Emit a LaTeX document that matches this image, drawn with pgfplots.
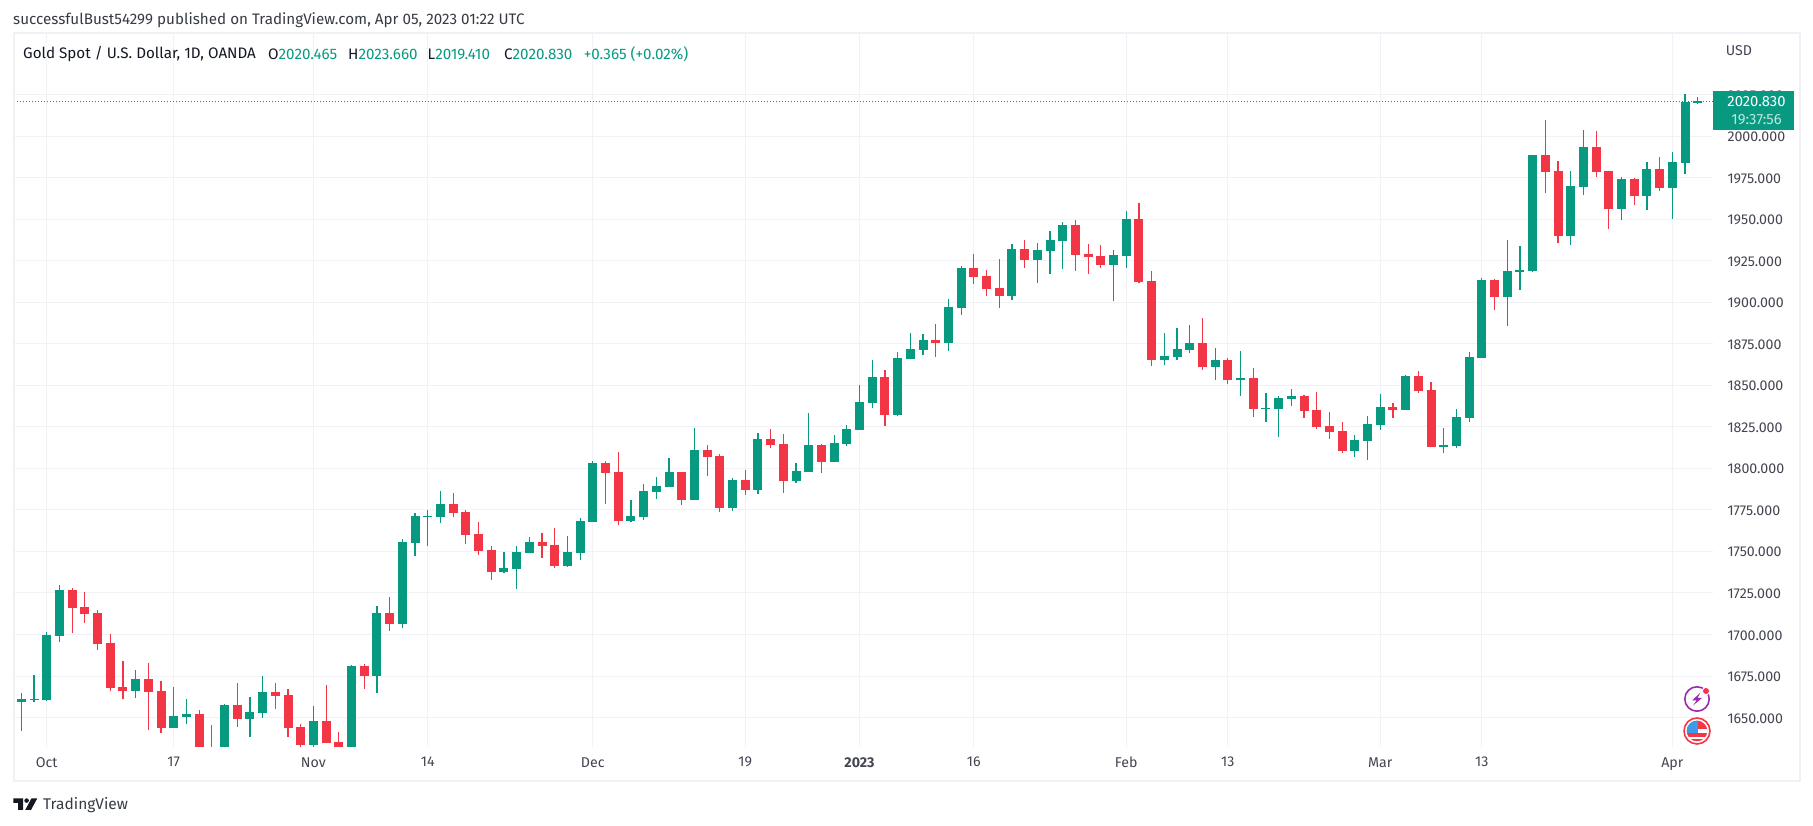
\documentclass[border=0pt]{standalone}
\usepackage{fontspec}
\setmainfont{Fira Sans}
\usepackage{pgfplots}
\usepackage{pgfplotstable}
\pgfplotsset{compat=1.18}

\definecolor{tvgreen}{HTML}{089981}
\definecolor{tvred}{HTML}{F23645}
\definecolor{tvtext}{HTML}{434651}
\definecolor{tvdark}{HTML}{131722}
\definecolor{tvgrid}{HTML}{F1F2F5}
\definecolor{tvframe}{HTML}{F0F1F6}
\definecolor{tvpurple}{HTML}{9C27B0}
\definecolor{tvblue}{HTML}{3D9AE8}

\newcommand{\hdfont}{\fontsize{15.2}{18}\selectfont}
\newcommand{\tkfont}{\fontsize{14.2}{17}\selectfont}
\newcommand{\tagfont}{\fontsize{14.8}{17}\selectfont}

% i open high low close
\pgfplotstableread{
i o h l c
0 1659.4 1664.8 1642.1 1661.2
1 1660.6 1675.6 1659.4 1661.2
2 1660.4 1701.5 1660.2 1699.7
3 1699.1 1729.8 1695.5 1726.8
9 1666.0 1678.6 1661.8 1673.2
12 1643.7 1668.4 1643.7 1651.0
13 1650.4 1661.2 1646.1 1652.2
16 1625.0 1658.2 1617.0 1657.6
18 1649.2 1662.4 1638.3 1653.4
19 1652.8 1675.0 1649.8 1665.4
23 1633.5 1657.0 1632.0 1647.9
26 1625.0 1681.6 1620.0 1681.0
28 1675.0 1717.2 1664.8 1712.9
30 1706.3 1757.5 1703.9 1755.7
31 1755.1 1773.1 1747.3 1771.3
32 1770.7 1774.9 1753.3 1771.3
33 1770.7 1786.4 1767.1 1778.5
38 1737.6 1749.7 1737.0 1740.0
39 1739.4 1753.3 1727.4 1749.7
40 1749.1 1758.7 1749.1 1755.7
43 1741.2 1759.3 1740.6 1749.7
44 1749.1 1770.1 1744.8 1768.3
45 1767.7 1804.4 1767.7 1803.2
48 1768.3 1780.9 1767.7 1771.3
49 1770.7 1790.6 1768.9 1786.4
50 1785.8 1794.8 1781.5 1789.4
51 1788.8 1806.2 1788.8 1797.8
53 1780.9 1824.3 1780.9 1811.0
56 1776.1 1794.2 1774.3 1793.0
58 1787.0 1821.3 1784.6 1817.7
61 1792.4 1803.2 1791.2 1798.4
62 1797.8 1833.3 1797.8 1814.0
64 1803.8 1820.1 1803.8 1815.2
65 1814.6 1826.1 1813.4 1823.7
66 1823.1 1850.2 1823.1 1839.9
67 1839.3 1865.2 1836.3 1855.0
69 1832.1 1870.0 1831.5 1866.4
70 1865.8 1881.4 1865.8 1871.8
71 1871.2 1880.8 1868.2 1877.2
73 1875.4 1901.9 1870.6 1897.1
74 1896.5 1921.8 1892.3 1920.6
78 1903.7 1935.0 1901.3 1932.0
80 1925.4 1935.6 1911.5 1931.4
81 1930.8 1942.8 1917.0 1937.4
82 1936.8 1948.2 1920.0 1946.4
86 1922.4 1931.4 1900.7 1928.4
87 1927.8 1954.9 1920.6 1950.0
90 1865.2 1881.4 1862.2 1867.6
91 1867.0 1884.5 1865.2 1871.8
92 1871.2 1886.3 1869.4 1875.4
94 1861.0 1872.4 1853.1 1865.2
96 1853.1 1870.6 1843.5 1854.4
98 1835.7 1845.3 1827.9 1836.3
99 1835.7 1843.5 1818.9 1842.3
100 1841.7 1847.7 1837.5 1843.5
105 1810.4 1820.1 1806.8 1817.0
106 1816.4 1831.5 1805.0 1826.7
107 1826.1 1844.7 1823.1 1836.9
109 1835.1 1856.2 1835.1 1855.6
112 1812.8 1824.3 1809.2 1814.0
113 1813.4 1835.7 1812.2 1830.9
114 1830.3 1870.0 1827.9 1867.0
115 1866.4 1914.5 1866.4 1913.3
117 1903.1 1937.4 1885.7 1918.7
118 1918.1 1933.8 1907.3 1919.4
119 1918.7 1988.6 1918.1 1988.6
122 1939.8 1978.9 1934.4 1969.9
123 1969.3 2003.6 1964.5 1993.4
126 1956.0 1975.3 1949.4 1974.1
128 1963.9 1984.4 1955.5 1980.1
130 1968.7 1990.4 1950.0 1984.4
131 1983.8 2025.3 1977.1 2020.5
132 2020.1 2023.66 2019.41 2020.95
}\upcandles

\pgfplotstableread{
i o h l c
4 1726.8 1728.0 1700.9 1715.9
5 1716.5 1725.6 1706.9 1712.3
6 1712.9 1714.7 1690.7 1694.3
7 1694.9 1700.3 1666.0 1667.8
8 1668.4 1684.1 1661.2 1666.0
10 1673.2 1682.9 1642.5 1665.4
11 1666.0 1672.0 1640.7 1643.7
14 1652.2 1654.6 1625.0 1628.0
15 1631.0 1645.5 1617.0 1625.0
17 1657.6 1670.8 1644.3 1649.2
20 1665.4 1670.8 1655.2 1663.0
21 1663.6 1667.2 1638.3 1643.7
22 1644.3 1646.1 1632.0 1633.5
24 1647.9 1669.6 1634.7 1634.7
25 1635.3 1641.3 1625.0 1628.0
27 1681.0 1682.2 1667.2 1675.0
29 1712.9 1722.6 1702.1 1706.3
34 1778.5 1785.2 1770.7 1773.1
35 1773.7 1774.9 1754.5 1759.9
36 1760.5 1767.7 1747.9 1750.3
37 1750.9 1753.3 1732.8 1737.6
41 1755.7 1761.1 1746.0 1753.3
42 1753.9 1764.1 1740.0 1741.2
46 1803.2 1804.4 1778.5 1797.2
47 1797.8 1809.8 1765.9 1768.3
52 1797.8 1797.8 1777.9 1780.9
54 1811.0 1814.0 1795.4 1806.8
55 1807.4 1808.6 1773.7 1776.1
57 1793.0 1799.0 1784.0 1787.0
59 1817.7 1823.7 1812.2 1814.0
60 1814.7 1820.7 1785.2 1792.4
63 1814.0 1814.6 1797.2 1803.8
68 1855.0 1859.2 1825.5 1832.1
72 1877.2 1886.9 1867.0 1875.4
75 1920.6 1929.0 1910.9 1915.1
76 1915.7 1919.4 1903.7 1907.9
77 1908.5 1926.0 1896.5 1903.7
79 1932.0 1937.4 1920.6 1925.4
83 1946.4 1949.4 1918.8 1928.4
84 1929.0 1935.0 1917.0 1927.2
85 1927.8 1934.4 1920.6 1922.4
88 1950.0 1959.7 1911.5 1912.1
89 1912.7 1918.8 1861.6 1865.2
93 1875.4 1890.5 1859.2 1861.0
95 1865.2 1866.4 1850.7 1853.1
97 1854.4 1860.4 1830.9 1835.7
101 1843.5 1844.1 1830.3 1834.5
102 1835.1 1845.9 1823.7 1824.9
103 1825.5 1833.9 1817.6 1821.9
104 1822.5 1827.9 1809.2 1810.4
108 1836.9 1839.3 1830.3 1835.1
110 1855.6 1858.6 1845.3 1846.5
111 1847.1 1851.9 1812.8 1812.8
116 1913.3 1913.9 1895.3 1903.1
120 1988.6 2009.6 1965.7 1978.3
121 1978.9 1984.9 1935.6 1939.8
124 1993.4 2003.0 1975.3 1978.3
125 1978.9 1978.9 1944.0 1956.0
127 1974.1 1974.7 1958.5 1963.9
129 1980.1 1987.4 1966.9 1968.7
}\downcandles

\pgfplotsset{candle/.style n args={2}{draw=none, mark=none, forget plot,
  error bars/.cd, y dir=plus, y explicit, error mark=none,
  error bar style={color=#1, line width=#2}}}

\begin{document}
\begin{tikzpicture}
\path[use as bounding box] (-14pt,-79.3pt) rectangle (1799pt,746.7pt);
\begin{axis}[
  at={(0pt,0pt)}, anchor=south west,
  scale only axis, width=1699pt, height=712.7pt,
  xmin=-0.575, xmax=133.2, ymin=1632.5, ymax=2061.4,
  ticklabel pos=right,
  axis line style={draw=none},
  tick style={draw=none},
  xmajorgrids, ymajorgrids,
  major grid style={color=tvgrid, line width=1pt},
  xtick={2,12,23,32,45,57,66,75,87,95,107,115,130},
  xticklabels={Oct,17,Nov,14,Dec,19,\textbf{2023},16,Feb,13,Mar,13,Apr},
  ytick={1650,1675,...,2025},
  xticklabel pos=bottom,
  xticklabel style={font=\tkfont, text=tvtext, yshift=-7pt},
  yticklabel style={font=\tkfont, text=tvtext, anchor=west, xshift=11pt, yshift=-0.8pt,
    /pgf/number format/.cd, fixed, fixed zerofill, precision=3, 1000 sep={}, assume math mode=true},
]
% wicks
\addplot[candle={tvgreen}{1.2pt}] table[x=i, y=l, y error plus expr=\thisrow{h}-\thisrow{l}] {\upcandles};
\addplot[candle={tvred}{1.2pt}] table[x=i, y=l, y error plus expr=\thisrow{h}-\thisrow{l}] {\downcandles};
% bodies
\addplot[candle={tvgreen}{9pt}] table[x=i, y=o, y error plus expr=\thisrow{c}-\thisrow{o}] {\upcandles};
\addplot[candle={tvred}{9pt}] table[x=i, y=c, y error plus expr=\thisrow{o}-\thisrow{c}] {\downcandles};
% last price line
\addplot[tvgreen, line width=0.8pt, dash pattern=on 1pt off 2pt] coordinates {(-0.575,2020.83) (133.2,2020.83)};
\end{axis}

% everything below is in reference pixels, measured from the top left
\begin{scope}[shift={(-14pt,746.7pt)}, x=1pt, y=-1pt, every node/.style={inner sep=0pt}]
  \draw[tvframe, line width=2pt] (13.5,33.5) rectangle (1800,781);
  \node[anchor=west, text=tvdark!85, font=\hdfont] at (13,20)
    {successfulBust54299 published on TradingView.com, Apr 05, 2023 01:22 UTC};
  \node[anchor=west, text=tvdark, font=\hdfont] at (23,54) {Gold Spot / U.S. Dollar, 1D, OANDA};
  \node[anchor=west, text=tvdark, font=\hdfont] at (268,54) {O\textcolor{tvgreen}{2020.465}};
  \node[anchor=west, text=tvdark, font=\hdfont] at (348,54) {H\textcolor{tvgreen}{2023.660}};
  \node[anchor=west, text=tvdark, font=\hdfont] at (427.5,54) {L\textcolor{tvgreen}{2019.410}};
  \node[anchor=west, text=tvdark, font=\hdfont] at (504,54) {C\textcolor{tvgreen}{2020.830}};
  \node[anchor=west, text=tvgreen, font=\hdfont] at (583.6,54) {+0.365 (+0.02\%)};
  \node[text=tvtext, font=\tkfont] at (1739,51) {USD};
  % price tag
  \fill[tvgreen] (1713,91) rectangle (1794,130);
  \node[text=white, font=\tagfont] at (1756.5,101.7) {2020.830};
  \node[text=white!75!tvgreen, font=\tagfont] at (1756.5,120) {19:37:56};
  % logo
  \fill[tvdark] (13.3,798.3) -- (23,798.3) -- (23,810) -- (18,810) -- (18,803) -- (13.3,803) -- cycle;
  \fill[tvdark] (26.6,800.6) circle (2.3);
  \fill[tvdark] (31.5,798.3) -- (37.3,798.3) -- (31,810) -- (25.2,810) -- cycle;
  \node[anchor=west, text=tvdark!85, font=\fontsize{15.5}{18}\selectfont] at (43,805) {TradingView};
  % icons
  \draw[tvpurple, line width=1.6pt] (1697,699) circle (12.2);
  \fill[tvpurple] (1700,693) -- (1692,700.5) -- (1696.5,700.5) -- (1693,705.5) -- (1702,698) -- (1697.5,698) -- cycle;
  \fill[white] (1706,691) circle (4.2);
  \fill[tvred] (1706,691) circle (3);
  \draw[tvred, line width=1.6pt] (1697,731) circle (13);
  \begin{scope}
    \clip (1697,731) circle (10.3);
    \fill[tvred] (1686,720) rectangle (1708,742);
    \fill[white] (1686,729) rectangle (1708,733);
    \fill[white] (1686,737) rectangle (1708,739);
    \fill[tvblue] (1686,720) rectangle (1698,733);
  \end{scope}
\end{scope}
\end{tikzpicture}
\end{document}
